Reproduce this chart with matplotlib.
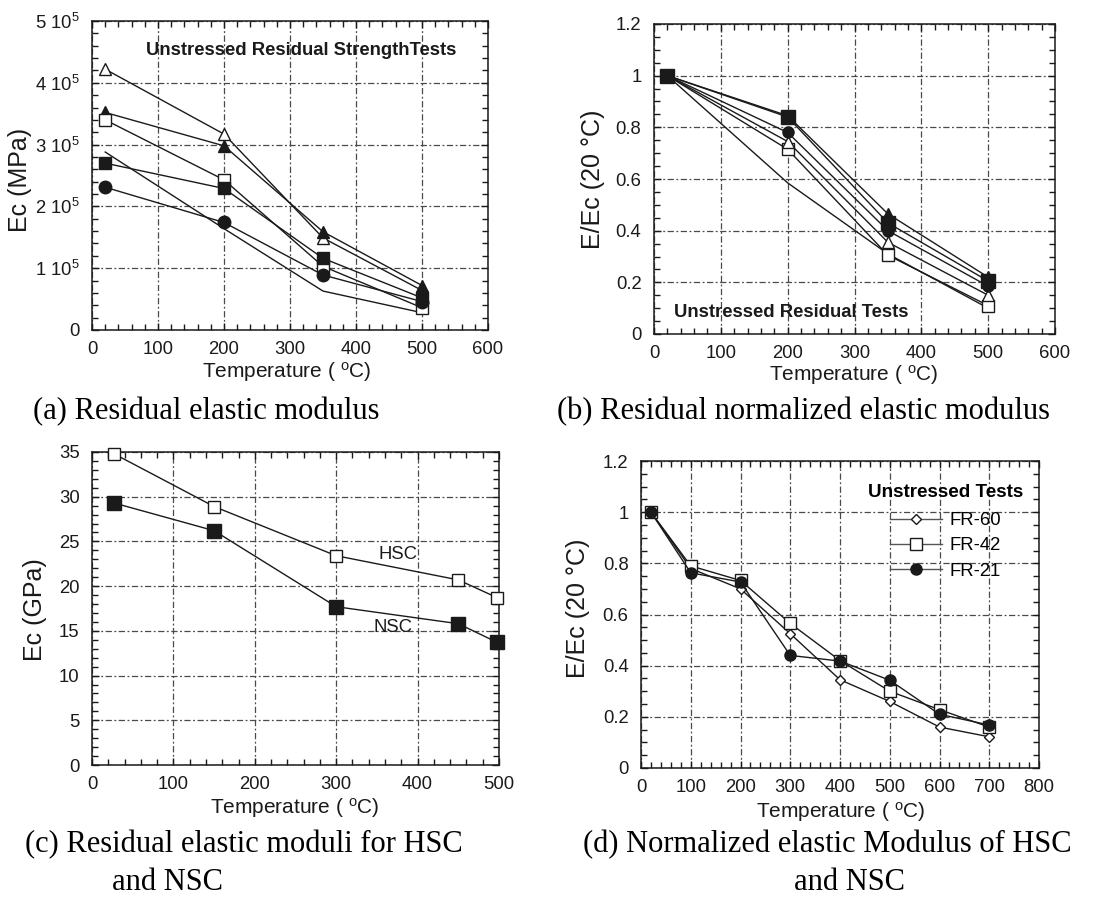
import matplotlib
matplotlib.use("Agg")
import matplotlib.pyplot as plt
from matplotlib import font_manager
from matplotlib.ticker import MultipleLocator, FixedLocator, FixedFormatter, FuncFormatter
from matplotlib.lines import Line2D

# ---------------- data ----------------
# (a) residual elastic modulus, MPa
temp_a = [20, 200, 350, 500]
ec_a_open_tri = [4.22e5, 3.17e5, 1.49e5, 0.64e5]
ec_a_filled_tri = [3.52e5, 2.98e5, 1.59e5, 0.72e5]
ec_a_open_sq = [3.40e5, 2.43e5, 1.03e5, 0.36e5]
ec_a_filled_sq = [2.70e5, 2.29e5, 1.16e5, 0.52e5]
ec_a_filled_circ = [2.31e5, 1.74e5, 0.89e5, 0.46e5]
ec_a_plain = [2.88e5, 1.64e5, 0.63e5, 0.28e5]
yticks_a = [0, 1e5, 2e5, 3e5, 4e5, 5e5]
yticklabels_a = ["0", "1 10$^5$", "2 10$^5$", "3 10$^5$", "4 10$^5$", "5 10$^5$"]

# (b) residual normalized elastic modulus
temp_b = [20, 200, 350, 500]
en_b_filled_tri = [1.0, 0.845, 0.465, 0.22]
en_b_filled_sq = [1.0, 0.84, 0.43, 0.205]
en_b_filled_circ = [1.0, 0.78, 0.40, 0.185]
en_b_open_tri = [1.0, 0.745, 0.355, 0.15]
en_b_open_sq = [1.0, 0.715, 0.305, 0.11]
en_b_plain = [1.0, 0.585, 0.31, 0.10]

# (c) residual elastic moduli, GPa
temp_c = [27, 150, 300, 450, 498]
ec_hsc = [34.8, 28.9, 23.4, 20.7, 18.7]
ec_nsc = [29.3, 26.2, 17.7, 15.8, 13.7]

# (d) normalized elastic modulus
temp_d = [20, 100, 200, 300, 400, 500, 600, 700]
en_fr60 = [1.0, 0.78, 0.70, 0.525, 0.345, 0.26, 0.16, 0.122]
en_fr42 = [1.0, 0.79, 0.733, 0.565, 0.42, 0.30, 0.228, 0.16]
en_fr21 = [1.0, 0.763, 0.727, 0.44, 0.418, 0.343, 0.21, 0.168]
legend_d = ["FR-60", "FR-42", "FR-21"]

captions = {
    "a": "(a) Residual elastic modulus",
    "b": "(b) Residual normalized elastic modulus",
    "c1": "(c) Residual elastic moduli for HSC",
    "c2": "and NSC",
    "d1": "(d) Normalized elastic Modulus of HSC",
    "d2": "and NSC",
}

# ---------------- fonts ----------------
names = {f.name for f in font_manager.fontManager.ttflist}
SANS = "Liberation Sans"
SERIF = "Liberation Serif"

plt.rcParams["font.family"] = [SANS, "DejaVu Sans"]
plt.rcParams["mathtext.fontset"] = "custom"
plt.rcParams["mathtext.rm"] = SANS
plt.rcParams["mathtext.it"] = SANS
plt.rcParams["mathtext.default"] = "rm"

INK = "#1a1a1a"
GRID = "#4a4a4a"
TICK_FS = 13.3
XLAB_FS = 15
YLAB_FS = 18
NOTE_FS = 13.3
LW = 1.0

W, H = 1112, 899
fig = plt.figure(figsize=(W / 100, H / 100), dpi=100)
fig.patch.set_facecolor("white")


def add_axes_px(left, right, top, bottom):
    return fig.add_axes([left / W, 1 - bottom / H, (right - left) / W, (bottom - top) / H])


def style_axes(ax, xmax, xmajor, xminor, ymax, ymajor, yminor, xlab_pos, ylab_pos, ylabel):
    ax.set_xlim(0, xmax)
    ax.set_ylim(0, ymax)
    ax.xaxis.set_major_locator(MultipleLocator(xmajor))
    ax.xaxis.set_minor_locator(MultipleLocator(xminor))
    ax.yaxis.set_major_locator(MultipleLocator(ymajor))
    ax.yaxis.set_minor_locator(MultipleLocator(yminor))
    ax.tick_params(which="both", direction="in", top=True, right=True,
                   colors=INK, width=1.0)
    ax.tick_params(which="major", length=5, labelsize=TICK_FS)
    ax.tick_params(which="minor", length=4)
    ax.tick_params(axis="x", which="major", pad=8)
    ax.tick_params(axis="y", which="major", pad=9)
    for s in ax.spines.values():
        s.set_linewidth(1.1)
        s.set_color(INK)
    ax.grid(True, which="major", color=GRID, linestyle=(0, (5, 2, 1.5, 2)),
            linewidth=0.9)
    ax.set_axisbelow(True)
    ax.set_xlabel("Temperature ( $^{\\mathrm{o}}$C)", fontsize=XLAB_FS, color=INK)
    ax.xaxis.set_label_coords(*xlab_pos)
    ax.xaxis.label.set_verticalalignment("center")
    ax.set_ylabel(ylabel, fontsize=YLAB_FS, color=INK)
    ax.yaxis.set_label_coords(*ylab_pos)
    ax.yaxis.label.set_verticalalignment("center")


def series(ax, x, y, marker, filled, ms):
    ax.plot(x, y, color=INK, lw=LW, marker=marker, ms=ms,
            mfc=INK if filled else "white", mec=INK, mew=1.0, clip_on=False,
            zorder=3)


def plain_fmt(v, p):
    if abs(v) < 1e-9:
        return "0"
    if abs(v - 1) < 1e-9:
        return "1"
    return f"{v:.1f}"


# ---------------- (a) ----------------
ax_a = add_axes_px(92, 488, 21, 330)
style_axes(ax_a, 600, 100, 20, 5e5, 1e5, 2e4, (0.492, -0.136), (-0.182, 0.485), "Ec (MPa)")
ax_a.yaxis.set_major_locator(FixedLocator(yticks_a))
ax_a.yaxis.set_major_formatter(FixedFormatter(yticklabels_a))
series(ax_a, temp_a, ec_a_plain, None, False, 0)
series(ax_a, temp_a, ec_a_open_tri, "^", False, 8)
series(ax_a, temp_a, ec_a_filled_tri, "^", True, 8)
series(ax_a, temp_a, ec_a_open_sq, "s", False, 9)
series(ax_a, temp_a, ec_a_filled_sq, "s", True, 9)
series(ax_a, temp_a, ec_a_filled_circ, "o", True, 9)
ax_a.text(317, 4.52e5, "Unstressed Residual StrengthTests", fontsize=NOTE_FS,
          fontweight="bold", ha="center", va="center", color=INK)

# ---------------- (b) ----------------
ax_b = add_axes_px(654, 1055, 24, 334)
style_axes(ax_b, 600, 100, 20, 1.2, 0.2, 0.05, (0.499, -0.132), (-0.152, 0.5), "E/Ec (20 °C)")
ax_b.yaxis.set_major_formatter(FuncFormatter(plain_fmt))
series(ax_b, temp_b, en_b_plain, None, False, 0)
series(ax_b, temp_b, en_b_open_sq, "s", False, 8)
series(ax_b, temp_b, en_b_open_tri, "^", False, 8)
series(ax_b, temp_b, en_b_filled_circ, "o", True, 8)
series(ax_b, temp_b, en_b_filled_tri, "^", True, 8)
series(ax_b, temp_b, en_b_filled_sq, "s", True, 10)
ax_b.text(206, 0.082, "Unstressed Residual Tests", fontsize=NOTE_FS,
          fontweight="bold", ha="center", va="center", color=INK)

# ---------------- (c) ----------------
ax_c = add_axes_px(92, 499, 452, 765)
style_axes(ax_c, 500, 100, 20, 35, 5, 1, (0.499, -0.137), (-0.14, 0.495), "Ec (GPa)")
series(ax_c, temp_c, ec_hsc, "s", False, 9)
series(ax_c, temp_c, ec_nsc, "s", True, 10)
ax_c.text(376, 23.5, "HSC", fontsize=NOTE_FS, ha="center", va="center", color=INK)
ax_c.text(370, 15.4, "NSC", fontsize=NOTE_FS, ha="center", va="center", color=INK)

# ---------------- (d) ----------------
ax_d = add_axes_px(641, 1039, 461, 768)
style_axes(ax_d, 800, 100, 20, 1.2, 0.2, 0.05, (0.503, -0.143), (-0.158, 0.52), "E/Ec (20 °C)")
ax_d.yaxis.set_major_formatter(FuncFormatter(plain_fmt))
series(ax_d, temp_d, en_fr60, "D", False, 5)
series(ax_d, temp_d, en_fr42, "s", False, 8)
series(ax_d, temp_d, en_fr21, "o", True, 8)
handles = [
    Line2D([], [], color="#555555", lw=LW, marker="D", ms=5, mfc="white", mec=INK),
    Line2D([], [], color="#555555", lw=LW, marker="s", ms=8, mfc="white", mec=INK),
    Line2D([], [], color="#555555", lw=LW, marker="o", ms=8, mfc=INK, mec=INK),
]
leg = ax_d.legend(handles, legend_d, title="Unstressed Tests", loc="upper right",
                  bbox_to_anchor=(1 - 16 / 398, 1 - 23 / 307), frameon=False,
                  fontsize=NOTE_FS, handlelength=2.8, handletextpad=0.4,
                  labelspacing=0.45, borderaxespad=0.0, borderpad=0.0)
leg.get_title().set_fontweight("bold")
leg.get_title().set_fontsize(NOTE_FS + 0.3)
leg._legend_box.sep = 8

# ---------------- captions ----------------
CAP_FS = 22
fig.text(33 / W, 1 - 412 / H, captions["a"], family=SERIF, fontsize=CAP_FS,
         ha="left", va="center", color="black")
fig.text(557 / W, 1 - 412 / H, captions["b"], family=SERIF, fontsize=CAP_FS,
         ha="left", va="center", color="black")
fig.text(25 / W, 1 - 845 / H, captions["c1"], family=SERIF, fontsize=CAP_FS,
         ha="left", va="center", color="black")
fig.text(168 / W, 1 - 882 / H, captions["c2"], family=SERIF, fontsize=CAP_FS,
         ha="center", va="center", color="black")
fig.text(583 / W, 1 - 845 / H, captions["d1"], family=SERIF, fontsize=CAP_FS,
         ha="left", va="center", color="black")
fig.text(850 / W, 1 - 882 / H, captions["d2"], family=SERIF, fontsize=CAP_FS,
         ha="center", va="center", color="black")

fig.savefig("out.png", dpi=100, facecolor="white")
